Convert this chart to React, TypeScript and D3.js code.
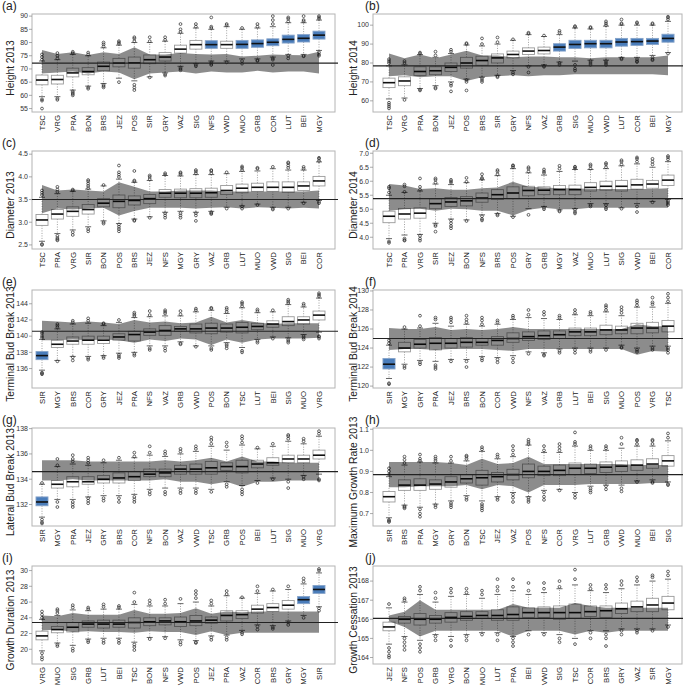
import React from "react";
import * as d3 from "d3";

// ---------- (a) Height 2013 ----------
const catsA = ["TSC","VRG","PRA","BON","BRS","JEZ","POS","SIR","GRY","VAZ","SIG","NFS","VWD","MUO","GRB","COR","LUT","BEI","MGY"];
const boxA = [[59.5,64.0,65.8,67.7,73.0],[59.5,64.3,66.0,67.6,73.5],[62.0,67.0,68.5,70.3,75.5],[63.5,67.8,69.0,70.5,75.0],[64.5,69.3,71.0,72.6,78.0],[66.5,70.8,72.2,74.0,79.0],[65.5,70.3,72.3,74.5,80.0],[67.0,72.0,73.5,75.3,80.0],[68.5,73.0,74.5,76.2,80.5],[71.0,76.0,77.5,79.0,83.5],[72.0,77.5,79.2,80.8,85.5],[73.0,77.8,79.2,80.7,85.0],[73.0,77.8,79.2,80.5,86.0],[73.8,77.8,79.3,80.8,85.0],[73.8,78.2,79.6,81.0,85.5],[74.5,78.8,80.1,81.4,86.0],[75.5,79.8,81.2,82.8,87.5],[75.5,80.2,81.6,83.0,87.5],[77.0,81.3,82.8,84.3,88.5]];
const outA = [[58.5,58.0,55.0,73.5,74.5,75.5],[58.8,58.3,74.0,75.0,76.0],[61.5,61.0,60.5,60.0,76.0,76.5],[63.0,62.5,75.5,76.2],[64.0,63.5,63.0,78.5,79.3,80.0],[65.0,79.5,80.0,80.5],[64.0,63.0,62.0,80.5,81.5,82.0],[66.8,80.5,82.0],[68.0,67.5,81.0,82.0],[70.5,70.0,69.5,84.0,85.0,87.0],[71.5,71.0,86.0,87.0],[72.5,72.0,71.5,85.5,86.0,89.5],[72.5,86.5,87.0],[73.0,72.0,85.5],[73.3,73.0,86.0,87.0],[74.0,73.5,71.5,87.0,88.5,90.0],[75.0,74.0,88.0,89.0,89.5],[75.0,74.8,88.0,88.5,90.0],[76.3,75.5,75.0,89.0,89.5,90.0]];
const bandHiA = [77.2,75.7,76.3,75.3,76.3,75.7,78.2,75.5,75.5,76.0,75.7,75.5,75.7,74.7,75.0,75.5,75.3,75.2,76.5];
const bandLoA = [68.3,68.7,69.0,68.3,69.0,68.7,66.1,68.3,68.7,69.0,68.3,69.0,68.7,68.7,69.3,68.7,69.0,69.0,68.3];
const refA = 72.2;
const blueA = ["NFS","MUO","GRB","COR","LUT","BEI","MGY"];
const ticksA = [55,60,65,70,75,80,85,90];

// ---------- (b) Height 2014 ----------
const catsB = ["TSC","VRG","PRA","BON","JEZ","POS","BRS","SIR","GRY","NFS","VAZ","GRB","SIG","MUO","VWD","LUT","COR","BEI","MGY"];
const boxB = [[61.0,67.0,69.6,72.0,78.5],[61.5,68.0,70.5,72.7,79.0],[66.5,73.4,75.5,78.0,84.5],[68.0,73.8,75.9,78.0,83.0],[70.0,75.5,77.7,80.0,85.0],[71.5,77.3,80.0,83.0,89.5],[72.5,78.8,81.3,83.6,89.0],[73.5,80.0,82.7,84.8,90.0],[76.0,82.7,84.5,86.3,92.0],[78.5,84.5,86.3,88.0,95.0],[79.0,84.8,86.6,88.4,94.0],[80.5,86.3,88.4,90.2,95.0],[81.0,87.7,89.8,92.0,98.5],[81.5,88.0,90.2,92.0,98.0],[81.5,88.0,90.2,92.0,99.5],[83.0,88.9,91.1,93.0,100.0],[83.0,89.3,91.3,93.0,100.0],[84.0,89.8,91.6,93.0,100.0],[85.5,91.0,93.0,95.2,102.0]];
const outB = [[59.0,58.0,57.0,56.0,80.0,81.0,82.0],[60.5,80.0,81.0],[66.0,65.5,85.0,85.5],[67.0,66.5,84.0,86.0],[69.0,68.0,65.0,86.0,87.0],[71.0,70.0,65.5,90.0,90.5],[72.0,71.0,70.0,90.0,93.0],[73.0,72.5,91.0,93.5],[75.0,74.0,92.5],[78.0,75.0,95.5,96.0],[78.5,78.0,94.5],[80.0,79.0,96.0,97.0],[79.0,77.0,76.0,99.0,99.5],[81.0,80.0,79.0,98.5,99.0],[81.0,80.0,79.0,100.0,101.0,102.0],[82.5,82.0,100.5,101.0,103.0],[82.0,81.0,80.5,101.0,101.5],[83.0,82.0,81.5,100.5,101.0],[85.0,103.0,104.0,104.5]];
const bandHiB = [85.0,82.5,84.5,82.5,84.5,86.5,84.0,84.0,83.0,83.5,83.5,83.0,83.0,82.5,83.0,83.0,83.0,83.0,84.0];
const bandLoB = [73.0,73.5,72.5,73.0,73.0,70.5,72.5,73.0,73.5,73.0,73.5,73.5,74.0,74.0,74.0,74.0,74.0,74.0,73.5];
const refB = 78.5;
const blueB = ["GRB","SIG","MUO","VWD","LUT","COR","BEI","MGY"];
const ticksB = [60,70,80,90,100];

// ---------- (c) Diameter 2013 ----------
const catsC = ["TSC","PRA","VRG","SIR","BON","POS","BRS","JEZ","NFS","MGY","GRY","VAZ","GRB","LUT","MUO","VWD","SIG","BEI","COR"];
const boxC = [[2.58,2.93,3.05,3.17,3.55],[2.75,3.07,3.18,3.28,3.63],[2.83,3.13,3.24,3.34,3.68],[2.90,3.18,3.28,3.39,3.73],[3.03,3.34,3.42,3.52,3.80],[2.97,3.32,3.46,3.60,3.95],[3.07,3.38,3.48,3.58,3.88],[3.12,3.41,3.52,3.61,3.92],[3.22,3.55,3.64,3.72,4.03],[3.24,3.54,3.64,3.73,4.02],[3.22,3.54,3.64,3.74,4.05],[3.24,3.55,3.65,3.75,4.05],[3.33,3.61,3.70,3.81,4.07],[3.36,3.65,3.75,3.84,4.12],[3.40,3.68,3.77,3.86,4.13],[3.33,3.68,3.77,3.89,4.18],[3.33,3.66,3.77,3.89,4.15],[3.44,3.70,3.80,3.89,4.15],[3.48,3.80,3.91,4.01,4.33]];
const outC = [[2.52,2.50,3.60,3.65,3.70],[2.70,2.65,2.62,2.60,3.67,3.72,3.78],[2.78,2.72,3.70,3.72],[2.85,2.80,3.75,3.80,3.85,3.90,3.93],[3.00,2.97,3.82],[2.95,2.90,2.85,2.80,4.00,4.05,4.10,4.25],[3.05,3.03,3.90,3.92,4.13],[3.10,3.95,4.00,4.03],[3.20,3.15,3.10,4.05,4.08],[3.20,3.15,3.10,4.05,4.08,4.10],[3.20,3.15,3.03,4.08,4.12,4.15],[3.22,3.20,3.18,4.08,4.13,4.15],[3.30,4.10],[3.35,3.30,4.15,4.20,4.23],[3.38,4.18,4.20],[3.30,3.28,4.22],[3.30,4.20,4.25,4.30,4.32],[3.42,4.18,4.22],[3.45,3.42,4.35,4.40,4.42]];
const bandHiC = [3.82,3.70,3.72,3.70,3.68,3.88,3.78,3.68,3.68,3.70,3.70,3.70,3.68,3.68,3.68,3.68,3.68,3.68,3.70];
const bandLoC = [3.20,3.30,3.28,3.30,3.32,3.15,3.25,3.32,3.32,3.32,3.30,3.32,3.33,3.30,3.33,3.32,3.30,3.32,3.30];
const refC = 3.5;
const blueC: string[] = [];
const ticksC = [2.5,3.0,3.5,4.0,4.5];

// ---------- (d) Diameter 2014 ----------
const catsD = ["TSC","PRA","VRG","SIR","JEZ","BON","NFS","BRS","POS","GRY","GRB","MGY","VAZ","MUO","LUT","SIG","VWD","BEI","COR"];
const boxD = [[3.95,4.52,4.75,4.93,5.50],[4.08,4.65,4.83,5.03,5.60],[4.10,4.68,4.86,5.05,5.65],[4.50,5.02,5.20,5.37,5.90],[4.65,5.10,5.26,5.42,5.88],[4.62,5.12,5.30,5.45,5.95],[4.80,5.25,5.40,5.58,6.05],[4.85,5.35,5.52,5.70,6.20],[4.75,5.38,5.58,5.80,6.45],[5.02,5.48,5.67,5.82,6.30],[5.10,5.52,5.68,5.80,6.22],[4.98,5.52,5.70,5.85,6.35],[5.02,5.52,5.70,5.86,6.42],[5.20,5.65,5.78,5.95,6.42],[5.20,5.68,5.82,6.00,6.45],[5.05,5.65,5.82,6.03,6.55],[5.20,5.72,5.87,6.07,6.62],[5.28,5.75,5.90,6.03,6.50],[5.35,5.85,6.04,6.22,6.70]];
const outD = [[3.85,3.80,5.60,5.75,5.80],[3.95,3.90,3.88,5.62,5.82,5.88],[4.05,3.95,3.88,5.70,5.80,6.10],[4.45,4.40,4.20,5.95,6.05,6.10],[4.60,4.50,4.40,4.32,5.95,6.00,6.05],[4.58,5.98,6.12],[4.75,4.65,4.60,6.08,6.12,6.25],[4.82,4.78,6.25,6.35,6.40],[4.72,6.50,6.55,6.57],[4.80,6.35,6.45,6.50],[5.05,5.00,6.30,6.35,6.42],[4.95,4.92,6.45,6.55],[4.98,4.90,4.85,6.45,6.50,6.52],[5.15,5.10,6.45,6.55,6.60],[5.15,5.05,5.00,6.50,6.60,6.65],[5.02,6.60,6.70,6.75],[5.10,4.90,6.70,6.80,6.85],[5.25,6.60,6.70,6.80],[5.30,5.25,5.20,5.15,6.78,6.85,6.90]];
const bandHiD = [5.90,5.85,5.72,5.75,5.70,5.70,5.75,5.78,5.98,5.80,5.78,5.75,5.75,5.72,5.72,5.72,5.72,5.72,5.75];
const bandLoD = [4.95,5.00,5.02,4.95,5.02,5.00,4.95,4.95,4.78,4.98,5.05,5.00,5.00,5.05,5.05,5.05,5.05,5.05,5.05];
const refD = 5.38;
const blueD: string[] = [];
const ticksD = [4.0,4.5,5.0,5.5,6.0,6.5,7.0];

// ---------- (e) Terminal Bud Break 2013 ----------
const catsE = ["SIR","MGY","BRS","COR","GRY","JEZ","PRA","NFS","VAZ","GRB","VWD","POS","BON","TSC","LUT","BEI","SIG","MUO","VRG"];
const boxE = [[135.8,137.1,137.6,138.1,139.6],[137.0,138.6,139.0,139.5,140.9],[137.5,139.0,139.4,139.9,141.5],[137.5,139.0,139.5,140.0,141.6],[137.6,139.1,139.5,140.0,141.3],[137.9,139.5,139.9,140.3,141.7],[138.0,139.4,140.2,140.6,142.3],[138.8,140.1,140.5,140.9,142.4],[138.8,140.1,140.7,141.3,142.5],[139.3,140.6,140.9,141.2,142.5],[138.8,140.4,140.9,141.5,143.0],[138.8,140.3,141.0,141.6,143.2],[139.2,140.5,141.0,141.5,142.8],[138.6,140.4,141.1,141.7,143.5],[139.6,140.8,141.2,141.6,142.9],[139.9,141.1,141.5,141.9,143.0],[139.8,141.3,141.8,142.4,143.9],[140.2,141.5,142.0,142.4,143.6],[140.5,142.0,142.6,143.1,144.7]];
const outE = [[135.5,135.4,135.3,139.8,140.0,140.3,140.5],[136.9,141.1,141.3,141.5],[137.4,137.0,141.7,141.9],[137.3,137.1,141.9,142.2],[137.5,137.3,141.5,141.6],[137.7,137.5,137.3,142.0],[137.8,137.6,142.5,142.7,142.9],[138.5,138.3,142.6,143.1],[138.5,138.2,142.8,143.0,143.2],[139.1,139.0,142.7,143.1],[138.7,143.2,143.4],[138.5,138.3,143.4,143.5],[139.0,138.8,138.5,143.0,143.3,143.5],[138.2,138.0,143.7,144.0,144.2],[139.4,139.2,143.1,143.3],[139.7,143.2],[139.6,139.4,139.2,144.1,144.3,144.5],[140.0,139.8,139.6,143.8,144.0],[140.0,139.9,139.7,144.9,145.1,145.3]];
const bandHiE = [141.9,141.8,141.7,141.8,141.7,141.5,142.0,141.7,141.8,141.6,141.7,142.4,141.7,142.0,141.7,141.5,141.6,141.6,141.6];
const bandLoE = [139.5,139.5,139.6,139.5,139.6,139.5,139.2,139.6,139.4,139.7,139.6,138.9,139.6,139.2,139.6,139.7,139.7,139.7,139.8];
const refE = 140.6;
const blueE = ["SIR"];
const ticksE = [136,138,140,142,144];

// ---------- (f) Terminal Bud Break 2014 ----------
const catsF = ["SIR","MGY","GRY","PRA","JEZ","BRS","BON","COR","VWD","NFS","VAZ","GRB","LUT","BEI","SIG","MUO","POS","VRG","TSC"];
const boxF = [[120.8,121.8,122.3,122.9,124.3],[122.3,123.6,124.0,124.6,126.0],[122.7,124.0,124.4,124.9,126.1],[122.6,123.8,124.5,125.1,126.6],[122.8,124.0,124.5,125.0,126.3],[122.8,124.1,124.6,125.1,126.5],[123.1,124.3,124.6,125.0,126.3],[123.0,124.3,124.8,125.2,126.5],[123.2,124.6,125.0,125.6,127.0],[123.6,124.8,125.2,125.7,127.2],[123.5,124.9,125.3,125.8,127.1],[123.9,125.0,125.4,125.8,127.0],[124.0,125.3,125.7,126.1,127.5],[124.0,125.3,125.7,126.1,127.4],[124.0,125.4,125.9,126.4,127.8],[124.3,125.5,125.9,126.3,127.4],[124.0,125.5,126.1,126.6,128.3],[124.2,125.6,126.1,126.7,128.3],[124.2,125.7,126.3,126.9,128.7]];
const outF = [[120.3,120.2,124.5,124.8],[122.1,121.9,126.2],[122.5,122.3,126.3,127.4],[122.2,122.0,121.8,127.0,127.2],[122.6,126.7,127.0,127.2],[122.6,122.0,126.7,127.0,127.4],[122.9,122.7,126.5,126.9,127.2],[122.8,122.5,126.7,126.9],[122.9,122.5,127.2,127.4],[123.4,127.5,128.0],[123.3,123.2,127.5,127.8],[123.7,123.5,127.2,127.4],[123.8,123.5,127.7,128.0],[123.8,123.6,127.6,127.8],[123.8,128.0,128.3,128.5],[124.1,124.0,127.7,128.0,128.3],[123.8,123.6,128.5,128.8,129.0],[124.0,123.8,128.6,128.8,129.3],[124.0,123.8,123.5,128.9,129.3,129.7]];
const bandHiF = [126.1,126.0,126.0,126.2,125.9,126.0,125.9,126.0,126.2,126.0,126.0,126.0,126.0,126.0,126.0,126.0,126.5,126.3,126.3];
const bandLoF = [123.8,123.9,123.9,123.8,123.9,123.9,123.9,123.8,123.7,123.9,123.9,123.9,123.9,123.9,123.9,123.9,123.3,123.7,123.6];
const refF = 125.0;
const blueF = ["SIR"];
const ticksF = [120,122,124,126,128,130];

// ---------- (g) Lateral Bud Break 2013 ----------
const catsG = ["SIR","MGY","PRA","JEZ","GRY","BRS","COR","NFS","BON","VAZ","VWD","TSC","GRB","POS","BEI","LUT","SIG","MUO","VRG"];
const boxG = [[131.0,131.9,132.2,132.6,133.6],[132.4,133.3,133.6,133.9,135.0],[132.4,133.4,133.8,134.2,135.2],[132.6,133.6,133.8,134.2,135.1],[132.7,133.7,134.0,134.3,135.3],[132.7,133.7,134.1,134.5,135.5],[132.8,133.9,134.2,134.6,135.7],[133.2,134.2,134.4,134.8,135.9],[133.3,134.2,134.5,134.8,135.8],[133.3,134.4,134.8,135.1,136.0],[133.3,134.4,134.8,135.2,136.2],[133.2,134.4,134.9,135.4,136.6],[133.8,134.7,135.0,135.3,136.3],[133.5,134.5,135.0,135.5,136.7],[133.9,134.9,135.2,135.5,136.4],[134.1,135.1,135.3,135.7,136.6],[134.0,135.3,135.6,135.9,137.0],[134.3,135.3,135.6,135.9,136.8],[134.4,135.6,135.9,136.3,137.4]];
const outG = [[130.8,130.6,130.5,133.7],[132.2,131.8,135.1,135.6],[132.2,132.0,131.8,135.4,135.6,135.9],[132.5,132.3,132.1,135.3,135.5,135.7],[132.5,132.3,135.5],[132.5,132.2,135.7],[132.6,132.4,132.2,135.8,136.1],[133.0,132.8,136.1,136.6],[133.0,132.8,136.0,136.2],[133.1,132.9,136.2,136.4],[133.1,132.9,136.4,136.6],[133.0,136.8,137.1,137.3],[133.6,133.4,136.6,136.9],[133.2,133.0,132.8,136.9,137.2,137.4],[133.7,136.5],[134.0,136.8],[133.8,133.3,137.2,137.4,137.5],[134.2,134.0,137.0,137.2],[134.0,133.9,137.6,137.8]];
const bandHiG = [135.5,135.5,135.5,135.4,135.4,135.4,135.4,135.4,135.5,135.4,135.5,135.7,135.4,135.8,135.4,135.4,135.3,135.3,135.3];
const bandLoG = [133.9,133.9,134.0,133.9,133.9,133.9,133.9,133.9,134.0,133.8,133.8,133.6,133.8,133.4,133.8,133.8,133.9,133.9,133.9];
const refG = 134.6;
const blueG = ["SIR"];
const ticksG = [132,134,136,138];

// ---------- (h) Maximum Growth Rate 2013 ----------
const catsH = ["SIR","BRS","PRA","MGY","GRY","BON","TSC","JEZ","VAZ","POS","NFS","COR","VRG","LUT","GRB","VWD","MUO","BEI","SIG"];
const boxH = [[0.68,0.755,0.78,0.805,0.875],[0.74,0.81,0.835,0.86,0.93],[0.73,0.81,0.835,0.865,0.945],[0.745,0.815,0.84,0.86,0.94],[0.76,0.825,0.85,0.875,0.94],[0.785,0.845,0.865,0.885,0.95],[0.76,0.835,0.87,0.905,0.995],[0.78,0.85,0.875,0.895,0.96],[0.80,0.86,0.885,0.91,0.97],[0.78,0.87,0.90,0.935,1.025],[0.81,0.88,0.90,0.925,0.99],[0.815,0.88,0.905,0.93,0.99],[0.80,0.885,0.915,0.94,1.02],[0.83,0.89,0.915,0.935,1.0],[0.835,0.895,0.92,0.945,1.0],[0.835,0.90,0.925,0.95,1.01],[0.855,0.905,0.93,0.955,1.02],[0.86,0.915,0.935,0.96,1.02],[0.85,0.925,0.95,0.975,1.045]];
const outH = [[0.67,0.665,0.66,0.885,0.90,0.915],[0.735,0.73,0.725,0.94,0.955,0.97],[0.72,0.70,0.685,0.95,0.96,0.98],[0.74,0.73,0.95,0.96,0.97],[0.75,0.74,0.73,0.95,0.97],[0.775,0.765,0.96,0.97,0.975],[0.745,0.735,0.725,0.715,1.005,1.015],[0.775,0.765,0.97,0.98],[0.79,0.775,0.755,0.98,1.0,1.02],[0.775,0.765,0.755,1.03,1.04,1.05],[0.80,0.78,0.765,1.0,1.02],[0.81,1.0,1.015,1.03],[0.79,0.775,1.03,1.04,1.085],[0.82,0.81,0.80,1.01,1.02],[0.83,0.815,1.01,1.02],[0.82,0.805,1.03,1.06],[0.85,1.03,1.045,1.05],[0.85,0.845,1.03,1.045,1.05],[0.84,0.835,1.06,1.08]];
const bandHiH = [0.945,0.945,0.945,0.945,0.94,0.93,0.96,0.935,0.94,0.97,0.935,0.935,0.935,0.935,0.935,0.935,0.93,0.93,0.93];
const bandLoH = [0.825,0.825,0.83,0.83,0.83,0.835,0.815,0.835,0.83,0.80,0.835,0.835,0.835,0.84,0.84,0.84,0.84,0.845,0.845];
const refH = 0.885;
const blueH: string[] = [];
const ticksH = [0.7,0.8,0.9,1.0,1.1];

// ---------- (i) Growth Duration 2013 ----------
const catsI = ["VRG","MUO","SIG","GRB","LUT","BEI","TSC","BON","NFS","VWD","POS","JEZ","PRA","VAZ","COR","BRS","GRY","MGY","SIR"];
const boxI = [[19.8,21.2,21.7,22.3,23.8],[20.8,22.1,22.5,22.9,24.3],[20.5,22.2,22.8,23.4,25.0],[21.3,22.8,23.2,23.6,24.9],[21.4,22.7,23.2,23.7,25.1],[21.4,22.8,23.2,23.7,25.1],[20.9,22.7,23.4,24.0,25.7],[21.5,23.0,23.5,24.0,25.5],[21.6,23.1,23.6,24.0,25.5],[21.2,22.9,23.5,24.1,25.8],[21.1,23.0,23.6,24.3,26.0],[21.7,23.3,23.7,24.1,25.5],[21.8,23.6,24.3,24.9,26.8],[22.4,23.9,24.4,24.9,26.5],[23.1,24.6,25.1,25.6,27.1],[23.0,24.8,25.3,25.8,27.4],[23.6,25.1,25.6,26.2,27.6],[24.3,25.8,26.3,26.7,28.3],[25.4,27.1,27.6,28.1,29.7]];
const outI = [[19.5,19.0,18.7,24.0,24.4,24.8],[20.6,20.4,24.6,24.9,25.1],[20.1,19.8,25.3,25.6],[21.1,20.9,25.1,25.3],[21.1,20.8,25.4,25.7],[21.1,20.8,25.3,25.5],[20.6,20.3,19.9,26.0,27.2],[21.3,25.8,26.2],[21.4,25.8,26.3],[20.9,20.6,26.4],[20.9,20.8,26.5,27.0,27.4],[21.5,21.2,25.8,26.2],[21.5,21.2,27.0,27.4],[22.1,21.9,26.6],[22.9,22.5,27.4,28.0],[22.8,22.6,27.6],[23.4,23.1,28.0],[24.0,28.6,29.0],[25.2,24.9,30.0,30.2]];
const bandHiI = [24.3,24.2,24.6,24.4,24.4,24.4,25.0,24.5,24.5,24.6,25.2,24.5,24.8,24.7,24.8,24.8,24.8,24.8,24.8];
const bandLoI = [22.4,22.5,22.2,22.3,22.2,22.2,22.1,22.3,22.2,22.2,21.8,22.3,21.8,22.1,22.1,22.1,22.1,22.1,22.1];
const refI = 23.4;
const blueI = ["MGY","SIR"];
const ticksI = [20,22,24,26,28,30];

// ---------- (j) Growth Cessation 2013 ----------
const catsJ = ["JEZ","NFS","POS","GRB","VRG","BON","MUO","LUT","PRA","BEI","VWD","SIG","TSC","COR","BRS","GRY","VAZ","SIR","MGY"];
const boxJ = [[164.7,165.4,165.6,165.85,166.6],[165.1,165.8,166.0,166.15,166.9],[164.9,165.7,166.0,166.3,167.3],[165.2,165.8,166.0,166.2,166.9],[165.1,165.85,166.1,166.35,167.2],[165.2,165.95,166.15,166.4,167.3],[165.3,166.05,166.2,166.4,167.1],[165.3,165.95,166.2,166.5,167.3],[165.1,165.95,166.25,166.65,167.5],[165.4,166.1,166.35,166.6,167.3],[165.3,166.1,166.35,166.65,167.4],[165.2,166.0,166.35,166.7,167.6],[165.0,166.05,166.35,166.8,167.8],[165.4,166.15,166.4,166.7,167.5],[165.4,166.1,166.45,166.7,167.4],[165.5,166.3,166.55,166.85,167.6],[165.5,166.4,166.65,166.95,167.8],[165.5,166.4,166.75,167.1,168.0],[165.7,166.5,166.85,167.2,168.1]];
const outJ = [[164.5,164.3,164.1,164.0,166.8],[165.0,164.8,164.6,164.4,167.0,167.1],[164.7,164.5,164.3,167.5,167.7],[165.1,164.9,167.1,167.4],[164.9,164.6,167.4,167.6],[165.1,164.9,167.4,167.6],[165.2,167.3,167.5],[165.2,164.9,167.5,167.7,168.1],[165.0,164.8,164.6,167.7,168.1],[165.2,167.5,167.9],[165.2,167.6,167.9],[165.0,164.8,167.7,168.0],[164.7,168.1,168.6],[165.3,165.0,167.6,167.8],[165.2,165.0,164.6,167.6,167.8],[165.4,165.2,167.8,168.0],[165.4,165.3,168.0,168.2],[165.4,168.2,168.3],[165.6,168.3,168.5]];
const bandHiJ = [166.2,166.4,167.0,166.5,166.5,166.5,166.5,166.5,166.8,166.6,166.6,166.6,166.85,166.7,166.6,166.6,166.6,166.6,166.6];
const bandLoJ = [165.9,165.6,165.1,165.4,165.4,165.4,165.4,165.4,165.1,165.4,165.4,165.4,165.2,165.4,165.3,165.4,165.4,165.4,165.4];
const refJ = 166.05;
const blueJ: string[] = [];
const ticksJ = [164,165,166,167,168];

const panelLabels = ["(a)","(b)","(c)","(d)","(e)","(f)","(g)","(h)","(i)","(j)"];
const panelTitles = ["Height 2013","Height 2014","Diameter 2013","Diameter 2014","Terminal Bud Break 2013","Terminal Bud Break 2014","Lateral Bud Break 2013","Maximum Growth Rate 2013","Growth Duration 2013","Growth Cessation 2013"];

const panels = [
  { cats: catsA, box: boxA, out: outA, hi: bandHiA, lo: bandLoA, ref: refA, blue: blueA, ticks: ticksA, domain: [53.7, 90.8], fmt: "d" },
  { cats: catsB, box: boxB, out: outB, hi: bandHiB, lo: bandLoB, ref: refB, blue: blueB, ticks: ticksB, domain: [54.1, 105.9], fmt: "d" },
  { cats: catsC, box: boxC, out: outC, hi: bandHiC, lo: bandLoC, ref: refC, blue: blueC, ticks: ticksC, domain: [2.41, 4.57], fmt: ".1f" },
  { cats: catsD, box: boxD, out: outD, hi: bandHiD, lo: bandLoD, ref: refD, blue: blueD, ticks: ticksD, domain: [3.58, 7.08], fmt: ".1f" },
  { cats: catsE, box: boxE, out: outE, hi: bandHiE, lo: bandLoE, ref: refE, blue: blueE, ticks: ticksE, domain: [133.6, 145.7], fmt: "d" },
  { cats: catsF, box: boxF, out: outF, hi: bandHiF, lo: bandLoF, ref: refF, blue: blueF, ticks: ticksF, domain: [119.8, 130.1], fmt: "d" },
  { cats: catsG, box: boxG, out: outG, hi: bandHiG, lo: bandLoG, ref: refG, blue: blueG, ticks: ticksG, domain: [130.3, 138.05], fmt: "d" },
  { cats: catsH, box: boxH, out: outH, hi: bandHiH, lo: bandLoH, ref: refH, blue: blueH, ticks: ticksH, domain: [0.641, 1.106], fmt: ".1f" },
  { cats: catsI, box: boxI, out: outI, hi: bandHiI, lo: bandLoI, ref: refI, blue: blueI, ticks: ticksI, domain: [18.13, 30.58], fmt: "d" },
  { cats: catsJ, box: boxJ, out: outJ, hi: bandHiJ, lo: bandLoJ, ref: refJ, blue: blueJ, ticks: ticksJ, domain: [163.66, 168.79], fmt: "d" },
];

const W = 683, H = 687;
const FONT = "'Liberation Sans', Arial, sans-serif";
const cols = [
  { left: 32, right: 335, c0: 42, c1: 319, titleX: 10, labelX: 2, lineEnd: 338 },
  { left: 373, right: 682, c0: 389, c1: 668, titleX: 353, labelX: 365, lineEnd: 683 },
];
const rowTops = [14, 151, 290, 428, 566];
const PH = 98;

function Panel({ p, idx }: { p: any; idx: number }) {
  const col = cols[idx % 2];
  const top = rowTops[Math.floor(idx / 2)];
  const bottom = top + PH;
  const x = d3.scalePoint<string>().domain(p.cats).range([col.c0, col.c1]);
  const y = d3.scaleLinear().domain(p.domain).range([bottom, top]);
  const step = x.step();
  const bw = step * 0.78;
  const fmt = d3.format(p.fmt);
  const area = d3
    .area<number>()
    .x((_, i) => x(p.cats[i]) as number)
    .y0((_, i) => y(p.lo[i]))
    .y1((_, i) => y(p.hi[i]));
  const bandPath = area(p.hi) || "";
  return (
    <g>
      <rect x={col.left} y={top} width={col.right - col.left} height={PH} fill="#fff" stroke="#b4b4b4" strokeWidth={1} />
      {p.cats.map((c: string, i: number) => {
        const cx = x(c) as number;
        const [wlo, q1, med, q3, whi] = p.box[i];
        const isBlue = p.blue.includes(c);
        return (
          <g key={c}>
            <line x1={cx} x2={cx} y1={y(q3)} y2={y(whi)} stroke="#888" strokeWidth={0.8} strokeDasharray="1,1.5" />
            <line x1={cx} x2={cx} y1={y(q1)} y2={y(wlo)} stroke="#888" strokeWidth={0.8} strokeDasharray="1,1.5" />
            <line x1={cx - bw / 4} x2={cx + bw / 4} y1={y(whi)} y2={y(whi)} stroke="#555" strokeWidth={0.9} />
            <line x1={cx - bw / 4} x2={cx + bw / 4} y1={y(wlo)} y2={y(wlo)} stroke="#555" strokeWidth={0.9} />
            <rect x={cx - bw / 2} y={y(q3)} width={bw} height={y(q1) - y(q3)} fill={isBlue ? "#4a7dbb" : "none"} stroke={isBlue ? "#86a3c9" : "#9a9a9a"} strokeWidth={0.9} />
            <line x1={cx - bw / 2} x2={cx + bw / 2} y1={y(med)} y2={y(med)} stroke="#111" strokeWidth={1.6} />
            {p.out[i].map((v: number, k: number) => (
              <circle key={k} cx={cx} cy={y(v)} r={1.4} fill="none" stroke="#333" strokeWidth={0.75} />
            ))}
          </g>
        );
      })}
      <path d={bandPath} fill="#000" fillOpacity={0.45} stroke="none" />
      <line x1={col.left} x2={col.lineEnd} y1={y(p.ref)} y2={y(p.ref)} stroke="#222" strokeWidth={1.1} />
      {p.ticks.map((t: number) => (
        <g key={t}>
          <line x1={col.left - 3} x2={col.left} y1={y(t)} y2={y(t)} stroke="#888" strokeWidth={0.7} />
          <text x={col.left - 4} y={y(t)} dy="0.33em" textAnchor="end" fontSize={7} fill="#333" fontFamily={FONT}>
            {fmt(t)}
          </text>
        </g>
      ))}
      {p.cats.map((c: string) => (
        <text key={c} transform={`translate(${x(c)},${bottom + 3}) rotate(-90)`} textAnchor="end" dy="0.35em" fontSize={7.8} fill="#222" fontFamily={FONT}>
          {c}
        </text>
      ))}
      <text transform={`translate(${col.titleX},${top + PH / 2 + 5}) rotate(-90)`} textAnchor="middle" dy="0.35em" fontSize={10.3} fill="#222" fontFamily={FONT}>
        {panelTitles[idx]}
      </text>
      <text x={col.labelX} y={top - 4} fontSize={12} fill="#222" fontFamily={FONT}>
        {panelLabels[idx]}
      </text>
    </g>
  );
}

export default function App() {
  return (
    <svg width={W} height={H} viewBox={`0 0 ${W} ${H}`} style={{ position: "absolute", left: 0, top: 0, background: "#fff" }}>
      <rect width={W} height={H} fill="#fff" />
      {panels.map((p, i) => (
        <Panel key={i} p={p} idx={i} />
      ))}
    </svg>
  );
}
